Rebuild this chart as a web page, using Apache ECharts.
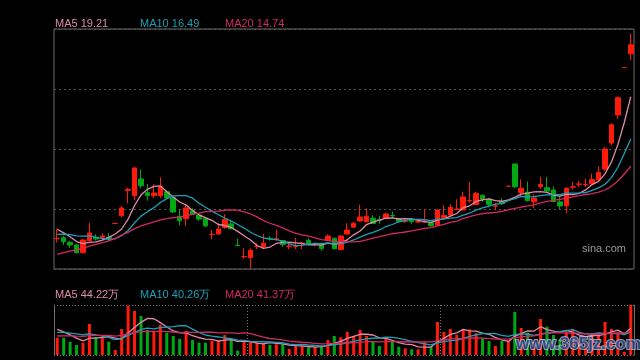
<!DOCTYPE html>
<html><head><meta charset="utf-8">
<script src="https://cdn.jsdelivr.net/npm/echarts@6/dist/echarts.min.js"></script>
<style>html,body{margin:0;padding:0;background:#000;}#c{width:640px;height:360px;}</style>
</head><body><div id="c"></div>
<script>
// [open, close, low, high]
const ohlc = [
[9.95,9.96,9.69,10.55],[10.00,9.74,9.53,10.11],[9.70,9.53,9.33,9.79],[9.53,9.02,8.97,9.59],[9.02,9.85,9.00,9.94],
[9.81,10.31,9.75,10.98],[10.03,9.92,9.81,10.22],[10.03,10.11,9.85,10.29],[10.03,9.94,9.81,10.29],[10.93,10.93,10.93,10.93],
[11.44,11.94,11.33,12.07],[13.09,13.16,12.25,13.26],[12.74,14.55,12.46,14.63],[13.83,13.39,13.24,14.46],[12.94,12.74,12.42,13.51],
[12.74,12.92,12.61,13.49],[12.74,13.33,12.57,13.94],[13.00,12.61,12.56,13.08],[12.61,11.68,11.61,12.66],[11.40,11.11,10.81,11.85],
[11.24,11.94,10.77,12.14],[11.76,11.53,11.48,11.92],[11.48,11.22,11.11,11.59],[11.27,10.77,10.70,11.33],[10.21,10.22,9.90,10.50],
[10.24,10.57,10.21,10.94],[10.67,11.20,10.57,11.53],[10.90,10.59,10.54,11.16],[9.51,9.49,9.49,9.92],[8.76,8.77,8.63,9.31],
[8.70,9.18,7.98,9.31],[9.42,9.44,9.26,9.64],[9.41,9.64,9.28,10.24],[9.96,9.93,9.81,10.11],[9.92,9.94,9.79,10.52],
[9.81,9.55,9.40,9.85],[9.44,9.46,9.25,9.64],[9.41,9.44,9.25,10.00],[9.62,9.66,9.25,9.74],[9.83,9.59,9.56,9.96],
[9.56,9.59,9.43,9.69],[9.58,9.30,9.15,9.68],[9.82,10.11,9.79,10.22],[9.96,9.28,9.25,10.01],[9.23,10.11,9.20,10.18],
[10.24,10.50,10.21,10.94],[10.69,10.94,10.63,11.03],[11.09,11.35,11.06,12.14],[11.04,11.40,11.01,11.92],[11.27,10.93,10.90,11.46],
[11.18,11.14,10.90,11.42],[11.27,11.55,11.22,11.63],[11.45,11.42,11.27,11.70],[11.24,11.07,10.99,11.29],[11.05,11.07,10.98,11.22],
[11.22,11.05,10.90,11.27],[11.02,11.04,10.98,11.16],[11.02,11.04,11.01,11.85],[10.98,10.78,10.70,11.03],[10.83,11.81,10.80,11.87],
[11.32,11.46,11.29,12.14],[11.48,11.98,11.45,12.20],[11.85,11.87,11.81,12.51],[11.81,12.66,11.78,13.00],[12.41,12.43,12.29,13.64],
[12.17,12.89,12.14,12.98],[12.77,12.51,12.35,12.82],[12.51,12.18,11.98,12.57],[12.06,12.08,11.81,12.27],[12.35,12.23,12.14,12.57],
[13.36,13.36,13.36,13.36],[14.81,13.33,13.22,14.84],[12.95,13.23,12.70,13.81],[12.97,12.42,12.36,13.67],[12.34,12.59,11.92,12.82],
[13.34,13.47,13.19,13.99],[13.26,13.05,13.00,13.97],[13.11,12.36,12.31,13.34],[12.34,12.07,11.87,12.74],[12.08,13.23,11.60,13.30],
[13.30,13.32,13.16,13.64],[13.49,13.51,13.29,13.72],[13.45,13.47,13.32,13.86],[13.52,13.80,13.49,14.18],[13.78,14.27,13.75,14.66],
[14.48,15.79,14.35,15.90],[16.18,17.37,16.02,17.47],[18.01,19.13,17.75,19.23],[21.10,21.10,21.10,21.10],[22.00,22.59,21.59,23.32]
];
// closes of the 19 sessions before the visible window (estimated from the MA lines)
const priorCloses = [7.5,7.6,7.55,7.6,7.7,7.65,7.6,7.7,7.65,7.65,9.6,9.8,9.9,10.0,10.15,10.9,10.8,10.6,10.49];
// volume in 万
const volumes = [
29.4,29.4,22.6,17.0,20.9,52.7,30.6,29.4,22.6,8.5,
44.2,83.8,74.8,66.3,42.5,40.8,51.0,37.9,32.3,27.2,
40.8,25.5,20.9,20.9,24.3,25.5,34.0,25.5,7.3,24.3,
22.6,20.9,19.9,17.0,18.2,18.2,10.2,15.3,15.3,13.1,
13.1,14.1,25.5,32.3,30.1,39.1,32.3,42.5,32.3,23.8,
15.3,28.4,23.8,14.1,11.4,9.7,9.7,22.1,14.1,56.1,
39.1,44.2,34.0,44.2,43.4,36.9,28.1,23.8,15.3,24.1,
24.1,73.1,45.9,37.9,22.6,61.2,48.1,34.0,26.7,39.6,
43.7,24.3,22.6,36.9,36.9,56.1,44.2,36.9,5.6,85.0
];
const priorVolumes = [23.8,27.2,25.5,25.5,27.2,25.5,27.2,25.5,27.2,25.5,30.6,34,32.3,35.7,34.9,51,47.6,45.9,44.5];
const categories = ohlc.map((d,i)=>'D'+(i+1));
const priceLegend = ['MA5 19.21','MA10 16.49','MA20 14.74'];
const volLegend = ['MA5 44.22万','MA10 40.26万','MA20 41.37万'];
const sourceLabel = 'sina.com';
const watermark = 'www.365jz.com';

const C_UP = '#ff1a0a', C_DN = '#00a814';
const C_MA5 = '#e08aa8', C_MA10 = '#1aa0b8', C_MA20 = '#d22a60';

function ma(vals, prior, n){
  const all = prior.concat(vals);
  return vals.map((v,i)=>{
    const end = prior.length + i;
    let s = 0;
    for(let k=end-n+1;k<=end;k++) s += all[k];
    return +(s/n).toFixed(3);
  });
}
const closes = ohlc.map(d=>d[1]);
function isUp(i){
  const d = ohlc[i];
  if (d[1] > d[0]) return true;
  if (d[1] < d[0]) return false;
  return i === 0 ? true : d[1] >= ohlc[i-1][1];
}
const volData = volumes.map((v,i)=>({value:v, itemStyle:{color: isUp(i)?C_UP:C_DN}}));

const chart = echarts.init(document.getElementById('c'), null, {renderer:'canvas'});
const FONT = 'Liberation Sans, Arial, sans-serif';
const lineS = (name, data, color, xi, yi) => ({
  name, type:'line', data, xAxisIndex:xi, yAxisIndex:yi, symbol:'none', silent:true,
  lineStyle:{color, width:1.3}, z:3
});
chart.setOption({
  animation:false,
  backgroundColor:'#000',
  grid:[
    {left:54, top:29, width:580, height:240, show:true, borderColor:'#6e6e6e', borderWidth:1, backgroundColor:'transparent'},
    {left:54, top:305, width:580, height:50, show:false}
  ],
  xAxis:[
    {type:'category', gridIndex:0, data:categories, boundaryGap:true,
     axisLine:{show:false}, axisTick:{show:false}, axisLabel:{show:false}, splitLine:{show:false}},
    {type:'category', gridIndex:1, data:categories, boundaryGap:true,
     axisLine:{show:false}, axisTick:{show:false}, axisLabel:{show:false},
     splitLine:{show:true, interval:(i)=>i%30===0, lineStyle:{color:'#777', type:[1,2], width:1}}}
  ],
  yAxis:[
    {type:'value', gridIndex:0, min:7.959, max:23.617, interval:3.9145,
     axisLine:{show:false}, axisTick:{show:false}, axisLabel:{show:false},
     splitLine:{show:true, lineStyle:{color:'#555', type:[2,3], width:1}}},
    {type:'value', gridIndex:1, min:0, max:85, interval:85,
     axisLine:{show:true, lineStyle:{color:'#6e6e6e'}}, axisTick:{show:false}, axisLabel:{show:false},
     splitLine:{show:true, showMinLine:true, showMaxLine:true, lineStyle:{color:'#777', type:[1,2], width:1}}},
    {type:'value', gridIndex:1, position:'right', min:0, max:85,
     axisLine:{show:true, lineStyle:{color:'#6e6e6e'}}, axisTick:{show:false}, axisLabel:{show:false}, splitLine:{show:false}}
  ],
  series:[
    {type:'candlestick', xAxisIndex:0, yAxisIndex:0, data:ohlc, barWidth:5, silent:true,
     itemStyle:{color:C_UP, color0:C_DN, borderColor:C_UP, borderColor0:C_DN, borderWidth:1}, z:2},
    lineS('MA5', ma(closes, priorCloses, 5), C_MA5, 0, 0),
    lineS('MA10', ma(closes, priorCloses, 10), C_MA10, 0, 0),
    lineS('MA20', ma(closes, priorCloses, 20), C_MA20, 0, 0),
    {type:'bar', xAxisIndex:1, yAxisIndex:1, data:volData, barWidth:3, silent:true, z:2},
    lineS('VMA5', ma(volumes, priorVolumes, 5), C_MA5, 1, 1),
    lineS('VMA10', ma(volumes, priorVolumes, 10), C_MA10, 1, 1),
    lineS('VMA20', ma(volumes, priorVolumes, 20), C_MA20, 1, 1)
  ],
  graphic:[
    {type:'text', left:55, top:18, style:{text:priceLegend[0], fill:C_MA5, font:'11px '+FONT}},
    {type:'text', left:140, top:18, style:{text:priceLegend[1], fill:C_MA10, font:'11px '+FONT}},
    {type:'text', left:225, top:18, style:{text:priceLegend[2], fill:C_MA20, font:'11px '+FONT}},
    {type:'text', left:55, top:289, style:{text:volLegend[0], fill:C_MA5, font:'11px '+FONT}},
    {type:'text', left:140, top:289, style:{text:volLegend[1], fill:C_MA10, font:'11px '+FONT}},
    {type:'text', left:225, top:289, style:{text:volLegend[2], fill:C_MA20, font:'11px '+FONT}},
    {type:'text', left:582, top:243, style:{text:sourceLabel, fill:'#9a9a9a', font:'11px '+FONT}},
    {type:'text', left:515, top:335, z:10, style:{text:watermark, fill:'rgba(35,60,125,0.85)', stroke:'rgba(190,200,225,0.75)', lineWidth:2, font:'bold 17px '+FONT}}
  ]
});
</script></body></html>
